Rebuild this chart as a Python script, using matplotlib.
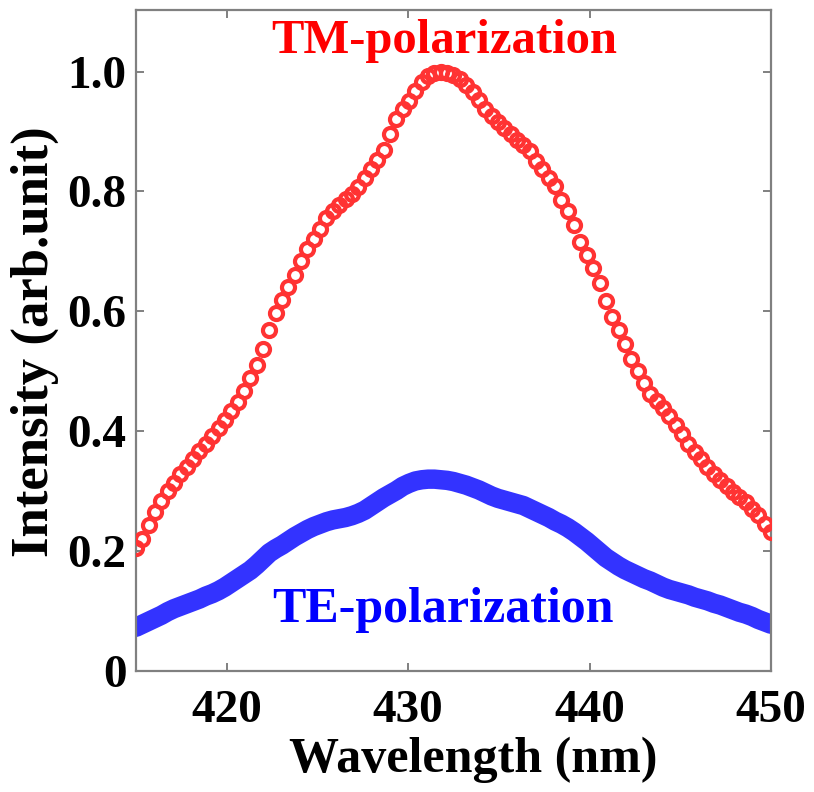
import matplotlib
matplotlib.use("Agg")
import matplotlib.pyplot as plt

plt.rcParams['font.family'] = ['Liberation Serif', 'DejaVu Serif']
plt.rcParams['font.weight'] = 'bold'

wavelength = [
    415.00, 415.35, 415.70, 416.05, 416.40, 416.75, 417.10, 417.45, 417.80, 418.15,
    418.50, 418.85, 419.20, 419.55, 419.90, 420.25, 420.60, 420.95, 421.30, 421.65,
    422.00, 422.35, 422.70, 423.05, 423.40, 423.75, 424.10, 424.45, 424.80, 425.15,
    425.50, 425.85, 426.20, 426.55, 426.90, 427.25, 427.60, 427.95, 428.30, 428.65,
    429.00, 429.35, 429.70, 430.05, 430.40, 430.75, 431.10, 431.45, 431.80, 432.15,
    432.50, 432.85, 433.20, 433.55, 433.90, 434.25, 434.60, 434.95, 435.30, 435.65,
    436.00, 436.35, 436.70, 437.05, 437.40, 437.75, 438.10, 438.45, 438.80, 439.15,
    439.50, 439.85, 440.20, 440.55, 440.90, 441.25, 441.60, 441.95, 442.30, 442.65,
    443.00, 443.35, 443.70, 444.05, 444.40, 444.75, 445.10, 445.45, 445.80, 446.15,
    446.50, 446.85, 447.20, 447.55, 447.90, 448.25, 448.60, 448.95, 449.30, 449.65,
    450.00,
]

tm_intensity = [
    0.205, 0.221, 0.243, 0.265, 0.283, 0.300, 0.314, 0.328, 0.341, 0.354,
    0.367, 0.379, 0.392, 0.405, 0.418, 0.433, 0.449, 0.467, 0.488, 0.510,
    0.537, 0.568, 0.597, 0.619, 0.641, 0.661, 0.684, 0.704, 0.721, 0.738,
    0.755, 0.768, 0.778, 0.787, 0.796, 0.808, 0.823, 0.838, 0.853, 0.869,
    0.896, 0.920, 0.937, 0.951, 0.967, 0.982, 0.993, 0.998, 1.000, 0.998,
    0.994, 0.987, 0.978, 0.966, 0.952, 0.937, 0.925, 0.915, 0.905, 0.895,
    0.886, 0.877, 0.867, 0.851, 0.837, 0.823, 0.809, 0.786, 0.768, 0.744,
    0.716, 0.694, 0.673, 0.648, 0.618, 0.591, 0.569, 0.546, 0.521, 0.500,
    0.480, 0.462, 0.450, 0.438, 0.426, 0.411, 0.395, 0.379, 0.365, 0.353,
    0.340, 0.329, 0.318, 0.309, 0.299, 0.291, 0.282, 0.271, 0.260, 0.246,
    0.232,
]

te_intensity = [
    0.073, 0.078, 0.083, 0.088, 0.093, 0.099, 0.104, 0.108, 0.112, 0.116,
    0.120, 0.125, 0.129, 0.134, 0.140, 0.147, 0.154, 0.161, 0.168, 0.177,
    0.187, 0.197, 0.204, 0.210, 0.217, 0.224, 0.230, 0.236, 0.241, 0.245,
    0.249, 0.252, 0.254, 0.256, 0.259, 0.263, 0.268, 0.275, 0.282, 0.289,
    0.295, 0.301, 0.308, 0.313, 0.317, 0.319, 0.320, 0.320, 0.319, 0.318,
    0.316, 0.313, 0.310, 0.306, 0.302, 0.297, 0.292, 0.288, 0.285, 0.282,
    0.279, 0.276, 0.271, 0.266, 0.261, 0.256, 0.250, 0.245, 0.239, 0.232,
    0.224, 0.216, 0.207, 0.198, 0.189, 0.182, 0.175, 0.169, 0.164, 0.159,
    0.154, 0.150, 0.145, 0.140, 0.136, 0.133, 0.130, 0.127, 0.123, 0.120,
    0.117, 0.113, 0.110, 0.106, 0.102, 0.098, 0.095, 0.091, 0.086, 0.082,
    0.078,
]

x_ticks = [420, 430, 440, 450]
y_ticks = [0, 0.2, 0.4, 0.6, 0.8, 1.0]
y_tick_labels = ['0', '0.2', '0.4', '0.6', '0.8', '1.0']

W, H = 814, 792
fig = plt.figure(figsize=(W / 100, H / 100), dpi=100)
ax = fig.add_axes([136 / W, (H - 671) / H, 635 / W, 661 / H])

ax.plot(wavelength, te_intensity, color='#3333ff', lw=14,
        solid_capstyle='round', solid_joinstyle='round', zorder=2)
ax.plot(wavelength, tm_intensity, ls='none', marker='o', markersize=9.4,
        markerfacecolor='none', markeredgecolor='#ff3333', markeredgewidth=3.0,
        zorder=3)

ax.set_xlim(415, 450)
ax.set_ylim(0, 1.1026)
ax.set_xticks(x_ticks)
ax.set_xticklabels([str(t) for t in x_ticks])
ax.set_yticks(y_ticks)
ax.set_yticklabels(y_tick_labels)

for s in ax.spines.values():
    s.set_color('#808080')
    s.set_linewidth(1.6)

ax.tick_params(axis='both', which='both', direction='in', length=6, width=1.4,
               color='#808080', top=True, right=True, labelsize=34)
ax.tick_params(axis='x', pad=14)
ax.tick_params(axis='y', pad=7)
for lab in ax.get_xticklabels() + ax.get_yticklabels():
    lab.set_fontweight('bold')

ax.set_xlabel('Wavelength (nm)', fontsize=36, fontweight='bold')
ax.xaxis.label.set_va('center')
ax.xaxis.set_label_coords((473 - 136) / 635, (671 - 760) / 661)

ax.set_ylabel('Intensity (arb.unit)', fontsize=38, fontweight='bold')
ax.yaxis.label.set_va('center')
ax.yaxis.set_label_coords((35 - 136) / 635, (671 - 342) / 661)

ax.text(432.0, (671 - 53) / 599.5, 'TM-polarization', color='#ff0000',
        fontsize=35, fontweight='bold', ha='center', va='baseline')
ax.text(431.9, (671 - 622) / 599.5, 'TE-polarization', color='#0000ff',
        fontsize=36, fontweight='bold', ha='center', va='baseline')

fig.savefig('out.png', dpi=100)
